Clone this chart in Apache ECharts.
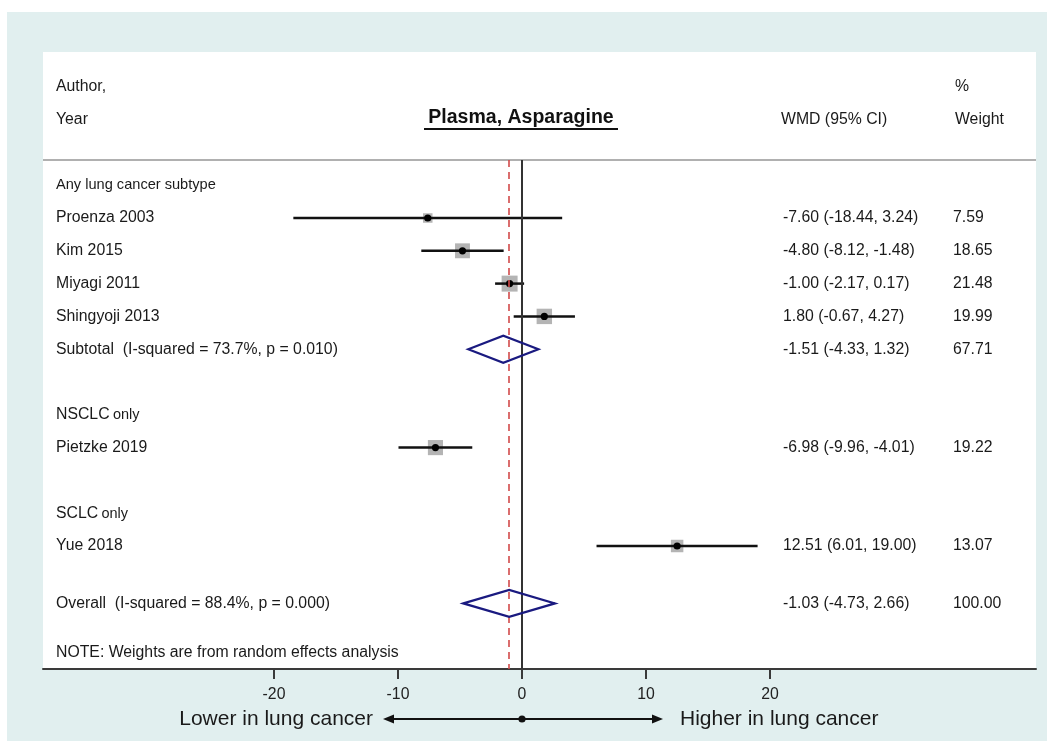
<!DOCTYPE html>
<html>
<head>
<meta charset="utf-8">
<script src="https://cdn.jsdelivr.net/npm/echarts@6/dist/echarts.min.js"></script>
<style>
html,body{margin:0;padding:0;background:#fff;}
#chart{width:1051px;height:743px;}
</style>
</head>
<body>
<div id="chart"></div>
<script>
// ---------------- data ----------------
const title = 'Plasma, Asparagine';
const groupNames = ['Any lung cancer subtype', 'NSCLC', 'SCLC'];
const groupSuffix = ['', 'only', 'only'];
const studies = ['Proenza 2003', 'Kim 2015', 'Miyagi 2011', 'Shingyoji 2013', 'Pietzke 2019', 'Yue 2018'];
const studyGroup = [0, 0, 0, 0, 1, 2];
const wmd = [-7.60, -4.80, -1.00, 1.80, -6.98, 12.51];
const ciLow = [-18.44, -8.12, -2.17, -0.67, -9.96, 6.01];
const ciHigh = [3.24, -1.48, 0.17, 4.27, -4.01, 19.00];
const weights = [7.59, 18.65, 21.48, 19.99, 19.22, 13.07];
const subtotalGroup = [0];
const subtotalLabel = ['Subtotal  (I-squared = 73.7%, p = 0.010)'];
const subtotalEst = [-1.51];
const subtotalLow = [-4.33];
const subtotalHigh = [1.32];
const subtotalWeight = [67.71];
const overallLabel = 'Overall  (I-squared = 88.4%, p = 0.000)';
const overallEst = -1.03;
const overallLow = -4.73;
const overallHigh = 2.66;
const overallWeight = 100.00;
const noteText = 'NOTE: Weights are from random effects analysis';
const xTicks = [-20, -10, 0, 10, 20];
const lowerText = 'Lower in lung cancer';
const higherText = 'Higher in lung cancer';

// ---------------- layout (row indices) ----------------
const FONT = '"Liberation Sans", Arial, sans-serif';
const fmt = v => v.toFixed(2);
const textRows = [];
const studyRow = [];
const diamonds = [];
let r = 0;
groupNames.forEach((g, gi) => {
  textRows.push({row: r, kind: 'group', label: g, suffix: groupSuffix[gi]});
  r++;
  studies.forEach((s, i) => {
    if (studyGroup[i] !== gi) return;
    studyRow[i] = r;
    textRows.push({row: r, kind: 'study', label: s,
      wmd: fmt(wmd[i]) + ' (' + fmt(ciLow[i]) + ', ' + fmt(ciHigh[i]) + ')',
      weight: fmt(weights[i])});
    r++;
  });
  const si = subtotalGroup.indexOf(gi);
  if (si >= 0) {
    textRows.push({row: r, kind: 'study', label: subtotalLabel[si],
      wmd: fmt(subtotalEst[si]) + ' (' + fmt(subtotalLow[si]) + ', ' + fmt(subtotalHigh[si]) + ')',
      weight: fmt(subtotalWeight[si])});
    diamonds.push([subtotalEst[si], subtotalLow[si], subtotalHigh[si], r]);
    r++;
  }
  r++; // blank row
});
const overallRow = r - 0.25;
textRows.push({row: overallRow, kind: 'study', label: overallLabel,
  wmd: fmt(overallEst) + ' (' + fmt(overallLow) + ', ' + fmt(overallHigh) + ')',
  weight: fmt(overallWeight)});
diamonds.push([overallEst, overallLow, overallHigh, overallRow]);
textRows.push({row: overallRow + 1.5, kind: 'note', label: noteText});

const studyData = studies.map((s, i) => [wmd[i], ciLow[i], ciHigh[i], weights[i], studyRow[i]]);

// ---------------- chart ----------------
const chart = echarts.init(document.getElementById('chart'), null, {renderer: 'canvas'});
const GL = 43, GR = 1036, GT = 160, GB = 669;
const px0 = 522, pxPerUnit = 12.4;
const xMin = -(px0 - GL) / pxPerUnit, xMax = (GR - px0) / pxPerUnit;
const rowPx = 32.8, row1Px = 218;
const yMin = 1 + (GT - row1Px) / rowPx, yMax = 1 + (GB - row1Px) / rowPx;
const COL_LABEL = 56, COL_WMD = 783, COL_W = 953;
const TXT = '#1a1a1a';
const FS = 15.8;

const option = {
  animation: false,
  backgroundColor: '#ffffff',
  grid: {left: GL, right: 1051 - GR, top: GT, bottom: 743 - GB, containLabel: false},
  xAxis: {
    type: 'value', min: xMin, max: xMax,
    axisLine: {show: true, onZero: false, lineStyle: {color: '#3a3a3a', width: 2}},
    axisTick: {show: true, customValues: xTicks, length: 10, lineStyle: {color: '#3a3a3a', width: 2}},
    axisLabel: {show: true, customValues: xTicks, color: '#222', fontSize: FS, fontFamily: FONT, margin: 18},
    splitLine: {show: false}
  },
  yAxis: {
    type: 'value', inverse: true, min: yMin, max: yMax, show: false
  },
  graphic: [
    {type: 'rect', z: -20, shape: {x: 7, y: 12, width: 1040, height: 729}, style: {fill: '#e1efef'}},
    {type: 'rect', z: -10, shape: {x: GL, y: 52, width: GR - GL, height: GB - 52}, style: {fill: '#ffffff'}},
    {type: 'line', z: 5, shape: {x1: GL, y1: GT, x2: GR, y2: GT}, style: {stroke: '#b0b0b0', lineWidth: 2}},
    {type: 'text', x: COL_LABEL, y: 87, style: {text: 'Author,', fill: TXT, font: FS + 'px ' + FONT, verticalAlign: 'middle'}},
    {type: 'text', x: COL_LABEL, y: 120, style: {text: 'Year', fill: TXT, font: FS + 'px ' + FONT, verticalAlign: 'middle'}},
    {type: 'text', x: 781, y: 120, style: {text: 'WMD (95% CI)', fill: TXT, font: FS + 'px ' + FONT, verticalAlign: 'middle'}},
    {type: 'text', x: 955, y: 87, style: {text: '%', fill: TXT, font: FS + 'px ' + FONT, verticalAlign: 'middle'}},
    {type: 'text', x: 955, y: 120, style: {text: 'Weight', fill: TXT, font: FS + 'px ' + FONT, verticalAlign: 'middle'}},
    {type: 'text', x: px0 - 1, y: 118, style: {text: title, fill: '#111', font: 'bold 19.5px ' + FONT, align: 'center', verticalAlign: 'middle'}},
    {type: 'line', shape: {x1: 424, y1: 129, x2: 618, y2: 129}, style: {stroke: '#111', lineWidth: 2}}
  ],
  series: [
    {
      type: 'custom', name: 'studies', z: 4,
      encode: {x: [0, 1, 2], y: 4},
      data: studyData,
      renderItem: function (params, api) {
        const row = api.value(4);
        const p = api.coord([api.value(0), row]);
        const l = api.coord([api.value(1), row]);
        const h = api.coord([api.value(2), row]);
        const s = 3.45 * Math.sqrt(api.value(3));
        return {type: 'group', children: [
          {type: 'rect', shape: {x: p[0] - s / 2, y: p[1] - s / 2, width: s, height: s}, style: {fill: '#b4b4b4'}},
          {type: 'line', shape: {x1: l[0], y1: l[1], x2: h[0], y2: h[1]}, style: {stroke: '#111', lineWidth: 2.5}},
          {type: 'circle', shape: {cx: p[0], cy: p[1], r: 3.6}, style: {fill: '#000'}}
        ]};
      },
      markLine: {
        symbol: 'none', silent: true, animation: false,
        label: {show: false},
        data: [
          {xAxis: 0, lineStyle: {color: '#333', width: 2, type: 'solid'}},
          {xAxis: overallEst, lineStyle: {color: '#d24a4a', width: 1.6, type: [7, 5]}}
        ]
      }
    },
    {
      type: 'custom', name: 'diamonds', z: 5,
      encode: {x: [0, 1, 2], y: 3},
      data: diamonds,
      renderItem: function (params, api) {
        const row = api.value(3);
        const c = api.coord([api.value(0), row]);
        const l = api.coord([api.value(1), row]);
        const h = api.coord([api.value(2), row]);
        const half = 13.5;
        return {type: 'polygon', shape: {points: [[l[0], c[1]], [c[0], c[1] - half], [h[0], c[1]], [c[0], c[1] + half]]},
          style: {fill: 'none', stroke: '#1a1a80', lineWidth: 2.2}};
      }
    },
    {
      type: 'custom', name: 'texts', z: 6,
      encode: {y: 0},
      data: textRows.map(t => [t.row]),
      renderItem: function (params, api) {
        const t = textRows[params.dataIndex];
        const y = api.coord([0, api.value(0)])[1];
        const children = [];
        if (t.kind === 'group') {
          if (t.suffix) {
            children.push({type: 'text', x: COL_LABEL, y: y, style: {
              text: '{a|' + t.label + '} {b|' + t.suffix + '}',
              verticalAlign: 'middle', fill: TXT,
              rich: {a: {fontSize: FS, fontFamily: FONT, fill: TXT, verticalAlign: 'bottom'},
                     b: {fontSize: 14.5, fontFamily: FONT, fill: TXT, verticalAlign: 'bottom'}}
            }});
          } else {
            children.push({type: 'text', x: COL_LABEL, y: y, style: {text: t.label, fill: TXT, font: '14.6px ' + FONT, verticalAlign: 'middle'}});
          }
        } else {
          children.push({type: 'text', x: COL_LABEL, y: y, style: {text: t.label, fill: TXT, font: FS + 'px ' + FONT, verticalAlign: 'middle'}});
          if (t.wmd) children.push({type: 'text', x: COL_WMD, y: y, style: {text: t.wmd, fill: TXT, font: FS + 'px ' + FONT, verticalAlign: 'middle'}});
          if (t.weight) children.push({type: 'text', x: COL_W, y: y, style: {text: t.weight, fill: TXT, font: FS + 'px ' + FONT, verticalAlign: 'middle'}});
        }
        return {type: 'group', children: children};
      }
    }
  ]
};
chart.setOption(option);

// direction arrow under the axis, anchored on x = 0
const cx = chart.convertToPixel({xAxisIndex: 0}, 0);
const ay = 719;
const leftEnd = cx - 139, rightEnd = cx + 141;
chart.setOption({
  graphic: option.graphic.concat([
    {type: 'line', shape: {x1: leftEnd + 6, y1: ay, x2: rightEnd - 6, y2: ay}, style: {stroke: '#111', lineWidth: 2}},
    {type: 'polygon', shape: {points: [[leftEnd, ay], [leftEnd + 11, ay - 4.5], [leftEnd + 11, ay + 4.5]]}, style: {fill: '#111'}},
    {type: 'polygon', shape: {points: [[rightEnd, ay], [rightEnd - 11, ay - 4.5], [rightEnd - 11, ay + 4.5]]}, style: {fill: '#111'}},
    {type: 'circle', shape: {cx: cx, cy: ay, r: 3.6}, style: {fill: '#111'}},
    {type: 'text', x: leftEnd - 10, y: ay, style: {text: lowerText, fill: TXT, font: '21px ' + FONT, align: 'right', verticalAlign: 'middle'}},
    {type: 'text', x: rightEnd + 17, y: ay, style: {text: higherText, fill: TXT, font: '21px ' + FONT, align: 'left', verticalAlign: 'middle'}}
  ])
});
</script>
</body>
</html>
